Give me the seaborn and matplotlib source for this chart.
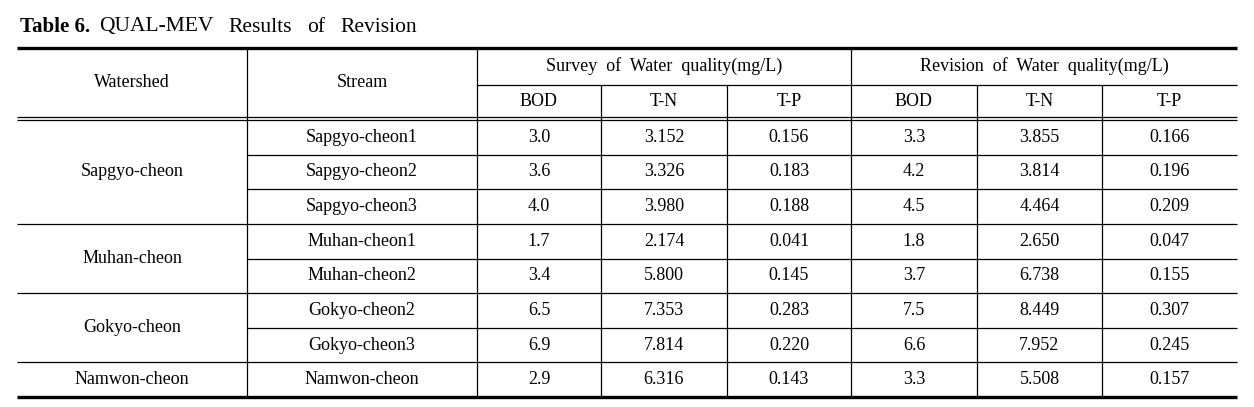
import matplotlib
matplotlib.use("Agg")
import matplotlib.pyplot as plt
import seaborn as sns

# table content
watersheds = ["Sapgyo-cheon", "Muhan-cheon", "Gokyo-cheon", "Namwon-cheon"]
group_sizes = [3, 2, 2, 1]
streams = ["Sapgyo-cheon1", "Sapgyo-cheon2", "Sapgyo-cheon3",
           "Muhan-cheon1", "Muhan-cheon2",
           "Gokyo-cheon2", "Gokyo-cheon3", "Namwon-cheon"]
survey_bod = ["3.0", "3.6", "4.0", "1.7", "3.4", "6.5", "6.9", "2.9"]
survey_tn = ["3.152", "3.326", "3.980", "2.174", "5.800", "7.353", "7.814", "6.316"]
survey_tp = ["0.156", "0.183", "0.188", "0.041", "0.145", "0.283", "0.220", "0.143"]
revision_bod = ["3.3", "4.2", "4.5", "1.8", "3.7", "7.5", "6.6", "3.3"]
revision_tn = ["3.855", "3.814", "4.464", "2.650", "6.738", "8.449", "7.952", "5.508"]
revision_tp = ["0.166", "0.196", "0.209", "0.047", "0.155", "0.307", "0.245", "0.157"]
group_headers = ["Survey  of  Water  quality(mg/L)", "Revision  of  Water  quality(mg/L)"]
sub_headers = ["BOD", "T-N", "T-P"]
title_bold = "Table 6."
title_words = ["QUAL-MEV", "Results", "of", "Revision"]

sns.set_style("white")
plt.rcParams["font.family"] = ["Liberation Serif", "DejaVu Serif"]
plt.rcParams["text.color"] = "black"

W, H = 1254, 407
fig = plt.figure(figsize=(W / 100, H / 100), dpi=100)
ax = fig.add_axes([0, 0, 1, 1])
ax.set_xlim(0, W)
ax.set_ylim(H, 0)
ax.axis("off")

col_edges = [17, 247, 477, 601, 727, 851, 977, 1102, 1237]
top, mid, head_bot = 48, 85, 117
row_top = 120
row_h = (397 - row_top) / len(streams)
bottom = row_top + row_h * len(streams)

fs = 13
thin = 0.9

def cx(i):
    return (col_edges[i] + col_edges[i + 1]) / 2

# title, word by word with wide spacing
renderer = fig.canvas.get_renderer()
t = ax.text(20, 27, title_bold, fontsize=15, fontweight="bold", va="center", ha="left")
x = t.get_window_extent(renderer).x1 + 9
for w in title_words:
    t = ax.text(x, 27, w, fontsize=15.5, va="center", ha="left")
    x = t.get_window_extent(renderer).x1 + 15

# rules
ax.hlines(top, col_edges[0], col_edges[-1], color="black", lw=2.4)
ax.hlines(bottom, col_edges[0], col_edges[-1], color="black", lw=2.4)
ax.hlines(mid, col_edges[2], col_edges[-1], color="black", lw=thin)
ax.hlines([head_bot, head_bot + 3], col_edges[0], col_edges[-1], color="black", lw=thin)

for x in [col_edges[1], col_edges[2], col_edges[5]]:
    ax.vlines(x, top, bottom, color="black", lw=thin)
for x in [col_edges[3], col_edges[4], col_edges[6], col_edges[7]]:
    ax.vlines(x, mid, bottom, color="black", lw=thin)

# headers
ax.text(cx(0), (top + head_bot) / 2, "Watershed", fontsize=fs, ha="center", va="center")
ax.text(cx(1), (top + head_bot) / 2, "Stream", fontsize=fs, ha="center", va="center")
for g, label in enumerate(group_headers):
    x0, x1 = col_edges[2 + 3 * g], col_edges[5 + 3 * g]
    ax.text((x0 + x1) / 2, (top + mid) / 2, label, fontsize=fs, ha="center", va="center")
    for k, s in enumerate(sub_headers):
        ax.text(cx(2 + 3 * g + k), (mid + head_bot) / 2, s, fontsize=fs,
                ha="center", va="center")

# body
columns = [streams, survey_bod, survey_tn, survey_tp, revision_bod, revision_tn, revision_tp]
r = 0
for name, n in zip(watersheds, group_sizes):
    y0 = row_top + r * row_h
    y1 = y0 + n * row_h
    ax.text(cx(0), (y0 + y1) / 2, name, fontsize=fs, ha="center", va="center")
    for j in range(n):
        yc = y0 + (j + 0.5) * row_h
        for c, vals in enumerate(columns):
            ax.text(cx(c + 1), yc, vals[r + j], fontsize=fs, ha="center", va="center")
        if j > 0:
            ax.hlines(y0 + j * row_h, col_edges[1], col_edges[-1], color="black", lw=thin)
    r += n
    if r < len(streams):
        ax.hlines(y1, col_edges[0], col_edges[-1], color="black", lw=thin)

fig.savefig("out.png", dpi=100)
